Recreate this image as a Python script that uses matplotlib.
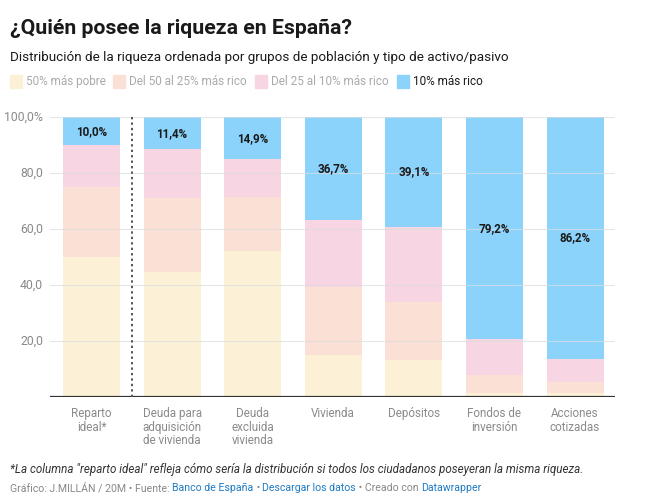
import matplotlib
matplotlib.use("Agg")
import matplotlib.pyplot as plt
import numpy as np

plt.rcParams['font.family'] = ['Roboto', 'DejaVu Sans']

categories = ["Reparto\nideal*", "Deuda para\nadquisición\nde vivienda", "Deuda\nexcluida\nvivienda",
              "Vivienda", "Depósitos", "Fondos de\ninversión", "Acciones\ncotizadas"]
series_names = ["50% más pobre", "Del 50 al 25% más rico", "Del 25 al 10% más rico", "10% más rico"]
poorest50 = [50.0, 44.9, 52.2, 15.1, 13.3, 1.4, 1.4]
mid50_25 = [25.0, 26.4, 19.5, 24.4, 20.6, 6.6, 4.0]
mid25_10 = [15.0, 17.3, 13.4, 23.8, 27.0, 12.8, 8.4]
top10 = [10.0, 11.4, 14.9, 36.7, 39.1, 79.2, 86.2]
top10_labels = ["10,0%", "11,4%", "14,9%", "36,7%", "39,1%", "79,2%", "86,2%"]
yticks = [20, 40, 60, 80, 100]
ytick_labels = ["20,0", "40,0", "60,0", "80,0", "100,0%"]

colors = ["#fcf1d6", "#fbe0d6", "#f8d5e3", "#8bd3fb"]

W, H = 651, 500
fig = plt.figure(figsize=(W/100, H/100), dpi=100)
ax = fig.add_axes([50/W, 1-397.3/H, (615-50)/W, 280/H])

x = np.arange(len(categories))
bottom = np.zeros(len(categories))
for vals, c in zip([poorest50, mid50_25, mid25_10, top10], colors):
    ax.bar(x, vals, bottom=bottom, width=0.707, color=c, zorder=2, linewidth=0)
    bottom += np.array(vals)

bottoms_top = np.array(poorest50) + np.array(mid50_25) + np.array(mid25_10)
for xi, b, v, lab in zip(x, bottoms_top, top10, top10_labels):
    ax.text(xi, b + v/2, lab, ha='center', va='center', fontsize=8.4, fontweight='bold',
            color='#1a1a1a', zorder=5)

ax.set_xlim(-0.515, 6.496)
ax.set_ylim(0, 100)
for t in yticks:
    ax.axhline(t, color='#dcdcdc', lw=0.8, zorder=3, alpha=0.7)
ax.axhline(0, color='#333333', lw=1.6, zorder=4)
ax.axvline(0.5, color='#555555', lw=1.4, ls=(0, (1.2, 1.6)), zorder=4)

ax.set_yticks(yticks)
ax.set_yticklabels(ytick_labels)
ax.set_xticks(x)
ax.set_xticklabels(categories, linespacing=1.05)
ax.tick_params(axis='y', length=0, labelsize=8.8, labelcolor='#8a8a8a', pad=5)
ax.tick_params(axis='x', length=0, labelsize=8.4, labelcolor='#8a8a8a', pad=7)
for lbl in ax.get_yticklabels():
    lbl.set_ha('right')
    lbl.set_va('center')
for s in ax.spines.values():
    s.set_visible(False)

# Title / subtitle
fig.text(10/W, 1-28/H, "¿Quién posee la riqueza en España?", fontsize=15.3, fontweight='bold',
         color='#1a1a1a', va='center', ha='left')
fig.text(10/W, 1-57/H, "Distribución de la riqueza ordenada por grupos de población y tipo de activo/pasivo",
         fontsize=9.7, color='#1a1a1a', va='center', ha='left')

# Legend
leg_x = [10, 113, 255, 397]
leg_colors_txt = ['#aaaaaa', '#aaaaaa', '#aaaaaa', '#1a1a1a']
for lx, c, name, tc in zip(leg_x, colors, series_names, leg_colors_txt):
    fig.patches.append(matplotlib.patches.Rectangle((lx/W, 1-88/H), 12/W, 13/H,
                                                    transform=fig.transFigure, color=c, figure=fig))
    fig.text((lx+16)/W, 1-81.5/H, name, fontsize=8.5, color=tc, va='center', ha='left')

# Footer
fig.text(10/W, 1-470/H, '*La columna "reparto ideal" refleja cómo sería la distribución si todos los ciudadanos poseyeran la misma riqueza.',
         fontsize=8.4, style='italic', color='#333333', va='center', ha='left')

renderer = fig.canvas.get_renderer()
parts = [("Gráfico: J.MILLÁN / 20M • Fuente: ", '#888888'), ("Banco de España", '#1f7ac4'),
         (" • ", '#888888'), ("Descargar los datos", '#1f7ac4'), (" • Creado con ", '#888888'),
         ("Datawrapper", '#1f7ac4')]
xpos = 10
for txt, c in parts:
    t = fig.text(xpos/W, 1-488/H, txt, fontsize=7.55, color=c, va='center', ha='left')
    bb = t.get_window_extent(renderer=renderer)
    xpos += bb.width

fig.savefig("out.png", dpi=100)
